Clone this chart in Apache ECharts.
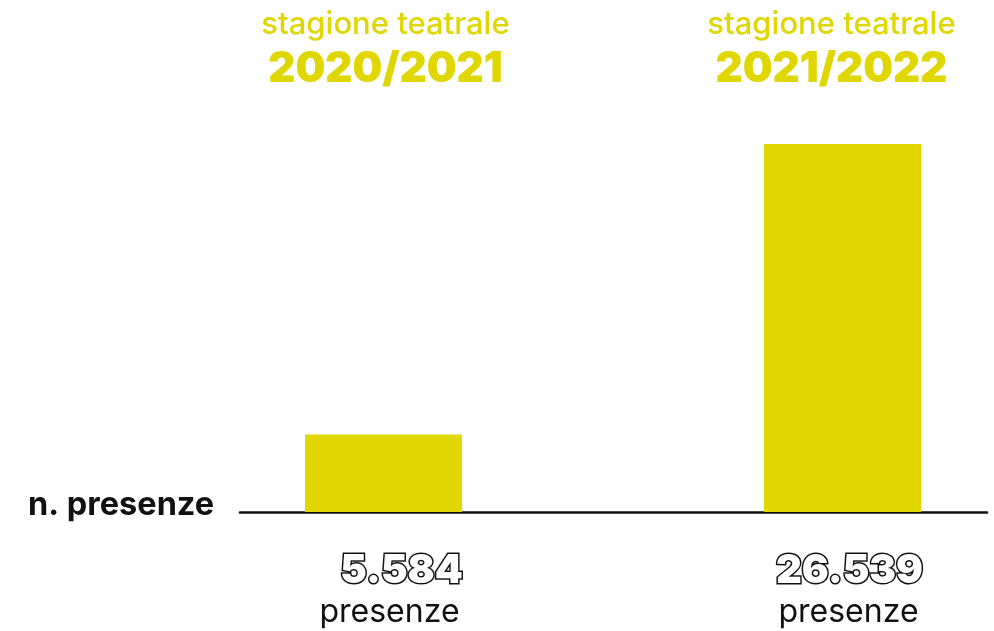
<!DOCTYPE html>
<html>
<head>
<meta charset="utf-8">
<script src="https://cdn.jsdelivr.net/npm/echarts@6/dist/echarts.min.js"></script>
<style>
  html, body { margin: 0; padding: 0; background: #fff; }
  #chart { width: 994px; height: 631px; }
</style>
</head>
<body>
<div id="chart"></div>
<script>
// dati
const stagioni = ['2020/2021', '2021/2022']
const presenze = [5584, 26539]
const etichette = ['5.584', '26.539']

const giallo = '#e0d600'
const font = 'Inter'

// spostamenti orizzontali delle etichette (come nell'originale)
const padNum = [[0, 0, 0, 36], [0, 0, 0, 14]]
const padTxt = [[0, 0, 0, 12], [0, 0, 0, 12]]
const padTop = [[0, 0, 0, 4], [0, 22, 0, 0]]

const rich = {}
stagioni.forEach((s, i) => {
  rich['n' + i] = {
    fontFamily: font, fontWeight: 900, fontSize: 40, color: '#fff',
    textBorderColor: '#111', textBorderWidth: 3, lineHeight: 48, padding: padNum[i]
  }
  rich['p' + i] = { fontFamily: font, fontSize: 32, color: '#111', lineHeight: 34, padding: padTxt[i] }
})
const richTop = {}
stagioni.forEach((s, i) => {
  richTop['s' + i] = { fontFamily: font, fontWeight: 500, fontSize: 31, color: giallo, lineHeight: 42, padding: padTop[i] }
  richTop['a' + i] = { fontFamily: font, fontWeight: 900, fontSize: 42, color: giallo, lineHeight: 46, padding: padTop[i] }
})

const chart = echarts.init(document.getElementById('chart'))

const option = {
  backgroundColor: '#fff',
  title: {
    text: 'n. presenze',
    left: 23,
    top: 484,
    textStyle: { fontFamily: font, fontWeight: 'bold', fontSize: 32.5, color: '#111' }
  },
  grid: [
    // barre
    { left: 154, width: 918, top: 96, bottom: 119, outerBoundsMode: 'none' },
    // linea di base
    { left: 240, right: 7, top: 96, bottom: 119, outerBoundsMode: 'none' }
  ],
  xAxis: [
    {
      type: 'category',
      gridIndex: 0,
      data: stagioni,
      axisLine: { show: false },
      axisTick: { show: false },
      axisLabel: {
        margin: 35,
        formatter: (v, i) => '{n' + i + '|' + etichette[i] + '}\n{p' + i + '|presenze}',
        rich: rich
      }
    },
    {
      type: 'category',
      gridIndex: 0,
      position: 'top',
      data: stagioni,
      axisLine: { show: false },
      axisTick: { show: false },
      axisLabel: {
        margin: 4,
        formatter: (v, i) => '{s' + i + '|stagione teatrale}\n{a' + i + '|' + v + '}',
        rich: richTop
      }
    },
    {
      type: 'category',
      gridIndex: 1,
      data: [''],
      axisLine: { lineStyle: { color: '#111', width: 2.5 } },
      axisTick: { show: false },
      axisLabel: { show: false }
    }
  ],
  yAxis: [
    { type: 'value', gridIndex: 0, min: 0, max: 30000, show: false },
    { type: 'value', gridIndex: 1, min: 0, max: 30000, show: false }
  ],
  series: [
    {
      type: 'bar',
      xAxisIndex: 0,
      yAxisIndex: 0,
      data: presenze,
      barWidth: 157,
      itemStyle: { color: giallo },
      silent: true
    }
  ],
  animation: false
}

chart.setOption(option)
</script>
</body>
</html>
